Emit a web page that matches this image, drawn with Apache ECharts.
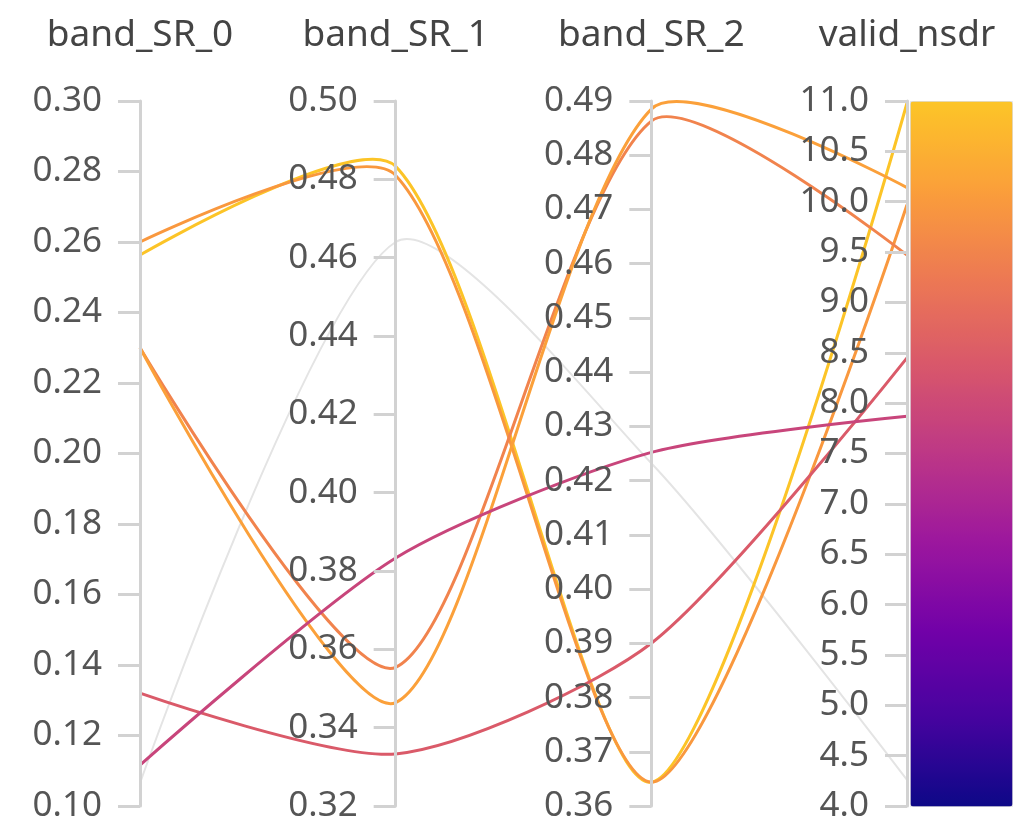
<!DOCTYPE html>
<html>
<head>
<meta charset="utf-8">
<script src="https://cdn.jsdelivr.net/npm/echarts@6/dist/echarts.min.js"></script>
<style>
  html, body { margin: 0; padding: 0; background: #fff; }
  #chart { width: 1028px; height: 823px; }
</style>
</head>
<body>
<div id="chart"></div>
<script>
// axis names and ranges
var dims = ['band_SR_0', 'band_SR_1', 'band_SR_2', 'valid_nsdr'];
var axisMin = [0.10, 0.32, 0.36, 4.0];
var axisMax = [0.30, 0.50, 0.49, 11.0];
var axisStep = [0.02, 0.02, 0.01, 0.5];
var axisDigits = [2, 2, 2, 1];

// one row per run: band_SR_0, band_SR_1, band_SR_2, valid_nsdr
var runs = [
  [0.2563, 0.4833, 0.3644, 10.98],
  [0.2600, 0.4810, 0.3644, 9.97],
  [0.2300, 0.3554, 0.4863, 9.47],
  [0.2300, 0.3464, 0.4885, 10.14],
  [0.1320, 0.3333, 0.3900, 8.45],
  [0.1116, 0.3833, 0.4252, 7.87]
];
// run shown greyed out
var greyRuns = [
  [0.1065, 0.4640, 0.4232, 4.26]
];

var PLASMA = ['#0d0887', '#46039f', '#7201a8', '#9c179e', '#bd3786',
              '#d8576b', '#ed7953', '#fb9f3a', '#fcc527'];

var chart = echarts.init(document.getElementById('chart'));

var axes = dims.map(function (name, i) {
  return {
    dim: i,
    name: name,
    min: axisMin[i],
    max: axisMax[i],
    interval: axisStep[i],
    nameLocation: 'end',
    nameGap: 47,
    nameTextStyle: { fontFamily: 'Noto Sans', fontSize: 37, color: '#444' },
    axisLine: { lineStyle: { color: '#d2d2d2', width: 3 } },
    axisTick: { show: true, length: -22, lineStyle: { color: '#d2d2d2', width: 3 } },
    axisLabel: {
      margin: -38,
      align: 'right',
      fontFamily: 'Noto Sans',
      fontSize: 35,
      color: '#555',
      formatter: function (v) { return Number(v).toFixed(axisDigits[i]); }
    },
    splitLine: { show: false }
  };
});

chart.setOption({
  animation: false,
  parallel: {
    left: 140,
    right: 121,
    top: 101,
    bottom: 17,
    parallelAxisDefault: { type: 'value' }
  },
  parallelAxis: axes,
  visualMap: {
    type: 'continuous',
    seriesIndex: 0,
    dimension: 3,
    min: 4,
    max: 11,
    calculable: false,
    text: null,
    showLabel: false,
    left: 910,
    top: 101,
    padding: 0,
    borderColor: '#e2e2e2',
    borderWidth: 1,
    itemWidth: 102,
    itemHeight: 705,
    inRange: { color: PLASMA }
  },
  series: [
    {
      type: 'parallel',
      smooth: 0.25,
      lineStyle: { width: 3, opacity: 1 },
      data: runs,
      z: 3
    },
    {
      type: 'parallel',
      smooth: 0.25,
      lineStyle: { width: 2, color: '#e4e4e4', opacity: 1 },
      data: greyRuns,
      z: 2
    }
  ]
});
</script>
</body>
</html>
